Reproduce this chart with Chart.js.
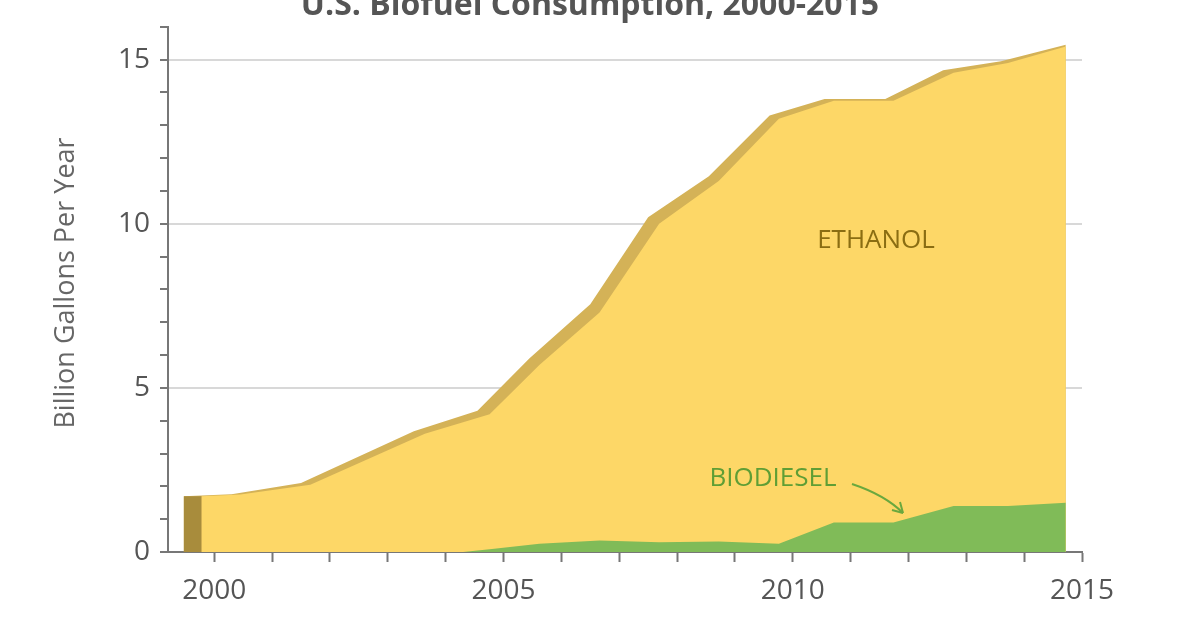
<!DOCTYPE html>
<html><head><meta charset="utf-8">
<script src="https://cdn.jsdelivr.net/npm/chart.js@4"></script>
<style>html,body{margin:0;padding:0;background:#fff}#w{width:1200px;height:630px}</style>
</head><body><div id="w"><canvas id="c" width="1200" height="630"></canvas></div>
<script>
const years = [1999.78,2000.45,2001.66,2003.64,2004.76,2005.62,2006.66,2007.69,2008.72,2009.76,2010.71,2011.74,2012.78,2013.72,2014.72];
const totalTop = [1.7,1.75,2.05,3.6,4.2,5.7,7.3,10.0,11.3,13.2,13.75,13.75,14.6,14.9,15.4];
const rearYears = [1999.47,2000.3,2001.5,2003.45,2004.55,2005.45,2006.5,2007.5,2008.55,2009.6,2010.55,2011.6,2012.6,2013.6,2014.72];
const rearTop = [1.7,1.76,2.1,3.68,4.3,5.9,7.55,10.2,11.45,13.3,13.8,13.8,14.68,14.95,15.45];
const bioYears = [1999.78,2004.3,2004.76,2005.62,2006.66,2007.69,2008.72,2009.76,2010.71,2011.74,2012.78,2013.72,2014.72];
const biodiesel = [0,0,0.08,0.25,0.35,0.3,0.32,0.25,0.9,0.9,1.4,1.4,1.5];
const sideYears = [1999.47,1999.78];
const sideTop = [1.7,1.7];
const xTicks = ['2000','2005','2010','2015'];
const yTicks = ['0','5','10','15'];

const pts = (xs, ys) => xs.map((x,i)=>({x, y:ys[i]}));
const F = '"Open Sans", "DejaVu Sans", sans-serif';

const textPlugin = {
  id:'txt',
  afterDraw(ch){
    const c = ch.ctx;
    c.save();
    c.fillStyle='#555'; c.font='bold 32px '+F; c.textAlign='center'; c.textBaseline='middle';
    c.fillText('U.S. Biofuel Consumption, 2000-2015', 590, 6);
    c.font='26px '+F; c.fillStyle='#8a6d12';
    c.fillText('ETHANOL', 876, 241);
    c.fillStyle='#5f9e35';
    c.fillText('BIODIESEL', 773, 479);
    c.strokeStyle='#6aa83e'; c.lineWidth=2;
    c.beginPath(); c.moveTo(852,484); c.quadraticCurveTo(885,495,903,513); c.stroke();
    c.beginPath(); c.moveTo(903,513); c.lineTo(892,510); c.moveTo(903,513); c.lineTo(900,502); c.stroke();
    c.translate(66,283); c.rotate(-Math.PI/2);
    c.fillStyle='#666'; c.font='27px '+F;
    c.fillText('Billion Gallons Per Year',0,0);
    c.restore();
  }
};

new Chart(document.getElementById('c'), {
  type:'line',
  data:{datasets:[
    {data:pts(bioYears,biodiesel), fill:'origin', backgroundColor:'#80bb58', borderWidth:0, pointRadius:0, tension:0, order:1},
    {data:pts(years,totalTop), fill:'origin', backgroundColor:'#fdd767', borderWidth:0, pointRadius:0, tension:0, order:2},
    {data:pts(sideYears,sideTop), fill:'origin', backgroundColor:'#a88c3c', borderWidth:0, pointRadius:0, tension:0, order:3},
    {data:pts(rearYears,rearTop), fill:'origin', backgroundColor:'#d4b257', borderWidth:0, pointRadius:0, tension:0, order:4}
  ]},
  options:{
    responsive:false, animation:false, devicePixelRatio:1,
    layout:{padding:{top:4,right:118,left:0,bottom:0}},
    plugins:{legend:{display:false}, tooltip:{enabled:false}},
    scales:{
      x:{type:'linear', min:1999.2, max:2015,
        afterFit(s){s.height=78;},
        afterBuildTicks(s){s.ticks=[];for(let y=2000;y<=2015;y++)s.ticks.push({value:y});},
        ticks:{autoSkip:false, maxRotation:0, padding:12, color:'#555', font:{size:28,family:F},
          callback:(v)=> xTicks.includes(String(v))?String(v):''},
        grid:{drawOnChartArea:false, drawTicks:true, tickLength:10, tickColor:'#777', tickWidth:2},
        border:{color:'#777', width:2}
      },
      y:{min:0, max:16,
        afterFit(s){s.width=168;},
        afterBuildTicks(s){s.ticks=[];for(let v=0;v<=16;v++)s.ticks.push({value:v});},
        ticks:{autoSkip:false, padding:10, color:'#555', font:{size:28,family:F},
          callback:(v)=> yTicks.includes(String(v))?String(v):''},
        grid:{drawTicks:true, tickLength:8, tickColor:'#777',
          color:(ctx)=> (ctx.tick && ctx.tick.value%5===0 && ctx.tick.value>0)?'#d8d8d8':'rgba(0,0,0,0)', lineWidth:2},
        border:{color:'#777', width:2}
      }
    }
  },
  plugins:[textPlugin]
});
</script></body></html>
